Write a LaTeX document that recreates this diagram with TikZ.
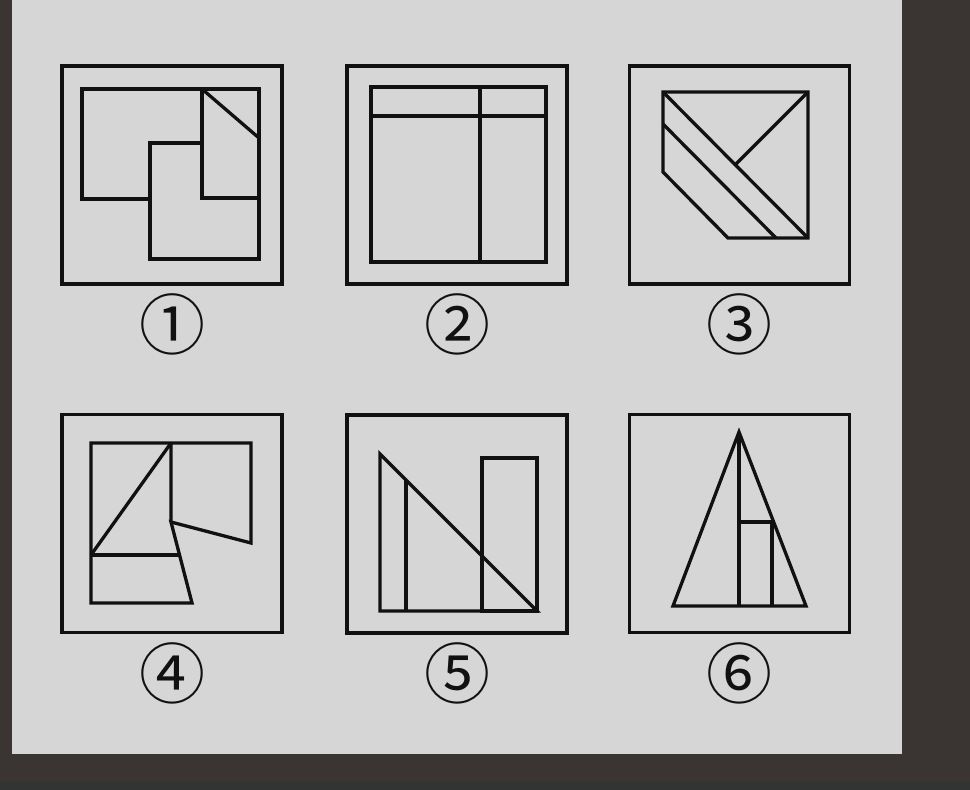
\documentclass[tikz,border=0pt]{standalone}
\usepackage{fontspec}
\newfontfamily\cjk{Noto Sans CJK SC}
\usetikzlibrary{positioning}
\definecolor{DarkBg}{RGB}{58,52,51}
\definecolor{StripBg}{RGB}{50,51,51}
\definecolor{PanelGrey}{RGB}{214,214,214}
\definecolor{InkBlack}{RGB}{17,17,17}
\tikzset{
  panelbox/.style={draw=InkBlack,line width=3.3pt,minimum width=220pt,
                   minimum height=218pt,inner sep=0pt},
  fig/.style={draw=InkBlack,line width=3.3pt,line join=miter},
  numlbl/.style={inner sep=0pt,font=\cjk\fontsize{66}{66}\selectfont,
                 text=InkBlack},
}
\begin{document}
\begin{tikzpicture}[x=1pt,y=-1pt]
  % background and grey panel
  \useasboundingbox (0,0) rectangle (970,790);
  \fill[DarkBg] (0,0) rectangle (970,790);
  \fill[StripBg] (0,782) rectangle (970,790);
  \fill[PanelGrey] (12,0) rectangle (902,754);

  % six frames with their numbers
  \foreach \i/\cx/\cy/\t in {1/172/175/①,2/457/175/②,3/739.5/175/③,
                             4/172/523.5/④,5/457/524/⑤,6/739.5/523.5/⑥}{
    \node[panelbox] (box\i) at (\cx,\cy) {};
    \node[numlbl] (num\i) at ([yshift=-39pt]box\i.south) {\t};
  }

  % figure 1
  \draw[fig] (150,199) -- (82,199) -- (82,89) -- (259,89) -- (259,259)
             -- (150,259) -- (150,143) -- (202,143);
  \draw[fig] (202,89) -- (202,198) -- (259,198);
  \draw[fig] (202,89) -- (259,138);

  % figure 2
  \draw[fig] (371,87) rectangle (546,262);
  \draw[fig] (371,116) -- (546,116);
  \draw[fig] (480,87) -- (480,262);

  % figure 3
  \draw[fig] (663,92) -- (808,92) -- (808,238) -- (728,238) -- (663,172) -- cycle;
  \draw[fig] (663,92) -- (808,238);
  \draw[fig] (663,124) -- (776,238);
  \draw[fig] (808,92) -- (736,164);

  % figure 4
  \draw[fig] (171,443) -- (91,443) -- (91,603) -- (192,603) -- (171,522)
             -- (251,543) -- (251,443) -- (171,443) -- (171,522);
  \draw[fig] (91,555) -- (171,443);
  \draw[fig] (91,555) -- (180,555);

  % figure 5
  \draw[fig] (380,454) -- (380,611) -- (537,611) -- cycle;
  \draw[fig] (406,480) -- (406,611);
  \draw[fig] (482,458) rectangle (537,611);

  % figure 6
  \draw[fig] (739,432) -- (673,606) -- (806,606) -- cycle;
  \draw[fig] (739,432) -- (739,606);
  \draw[fig] (739,522) -- (772,522) -- (772,606);
\end{tikzpicture}
\end{document}
